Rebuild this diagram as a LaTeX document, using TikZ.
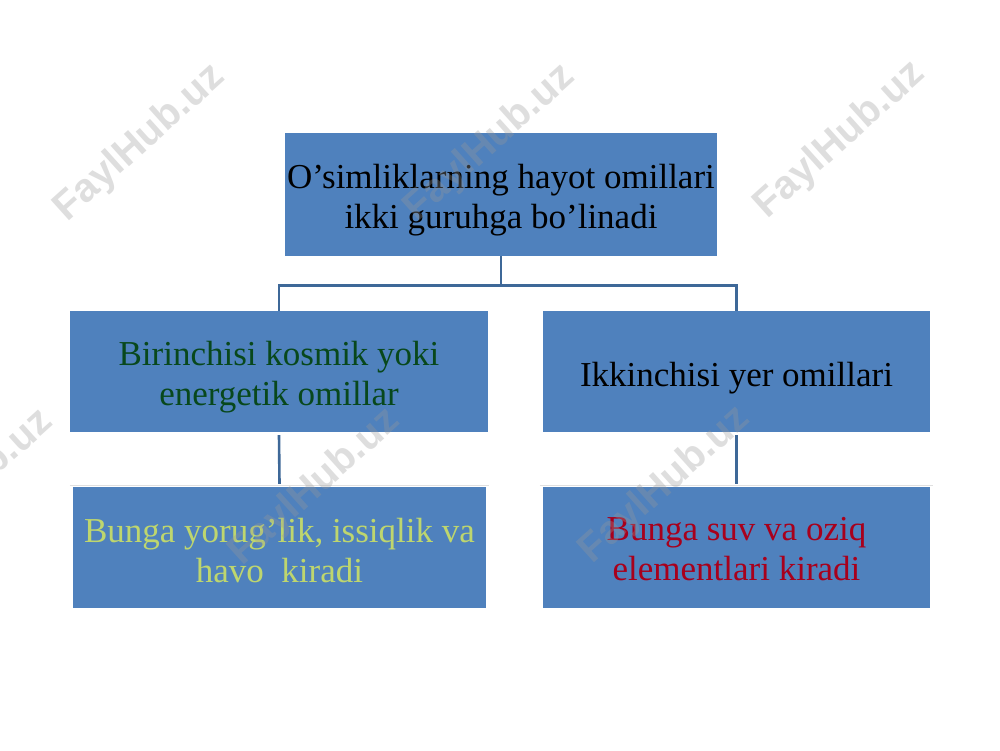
\documentclass[tikz,border=0pt]{standalone}
\usepackage{fontspec}
\usetikzlibrary{calc}
\setmainfont{Liberation Serif}
\newfontfamily\wmfont{Liberation Sans}
\definecolor{boxblue}{RGB}{79,129,189}
\definecolor{linkblue}{RGB}{62,104,152}
\definecolor{dkgreen}{RGB}{8,72,28}
\definecolor{ltgreen}{RGB}{190,214,110}
\definecolor{dkred}{RGB}{168,0,28}
\begin{document}
\begin{tikzpicture}[x=1pt,y=-1pt,
  box/.style={fill=boxblue,draw=none,minimum height=121pt,inner sep=0pt},
  txt/.style={align=center,inner sep=0pt,font=\fontsize{35}{40}\selectfont},
  link/.style={draw=linkblue,line width=2.6pt},
  wm/.style={font=\wmfont\bfseries\fontsize{40}{42}\selectfont,text=gray!80,
    text opacity=0.32,rotate=42}]
\useasboundingbox (0,0) rectangle (1000,750);
\fill[white] (0,0) rectangle (1000,750);
\node[box,minimum width=432pt,minimum height=123pt] (top) at (501,194.5) {};
\node[box,minimum width=418pt] (ml) at (279,371.5) {};
\node[box,minimum width=387pt] (mr) at (736.5,371.5) {};
\node[box,minimum width=413pt] (bl) at (279.5,547.5) {};
\node[box,minimum width=387pt] (br) at (736.5,547.5) {};
\node[txt] (topt) at ($(top.center)+(0,6)$)
  {O’simliklarning hayot omillari\\ikki guruhga bo’linadi};
\node[txt,text=dkgreen] (mlt) at ($(ml.center)+(0,6)$)
  {Birinchisi kosmik yoki\\energetik omillar};
\node[txt] (mrt) at ($(mr.center)+(0,7)$)
  {Ikkinchisi yer omillari};
\node[txt,text=ltgreen] (blt) at ($(bl.center)+(0,3)$)
  {Bunga yorug’lik, issiqlik va\\havo\ \ kiradi};
\node[txt,text=dkred] (brt) at ($(br.center)+(0,2)$)
  {Bunga suv va oziq\\elementlari kiradi};
\draw[black!12,line width=1pt] ([xshift=-3pt,yshift=1pt]bl.north west) -- ([xshift=3pt,yshift=1pt]bl.north east);
\draw[black!12,line width=1pt] ([xshift=-3pt,yshift=1pt]br.north west) -- ([xshift=3pt,yshift=1pt]br.north east);
\coordinate (split) at ($(top.south)+(0,29)$);
\draw[link] (top.south) -- (split) -| (ml.north);
\draw[link] (split) -| (mr.north);
\draw[link] ([yshift=-3pt]ml.south) -- ([yshift=3pt]bl.north);
\draw[link] ([yshift=-3pt]mr.south) -- ([yshift=3pt]br.north);
\node[wm] (w1) at (140,143) {FaylHub.uz};
\node[wm] (w2) at (490,143) {FaylHub.uz};
\node[wm] (w3) at (840,140) {FaylHub.uz};
\node[wm] (w4) at (-32,488) {FaylHub.uz};
\node[wm] (w5) at (315,487) {FaylHub.uz};
\node[wm] (w6) at (665,485) {FaylHub.uz};
\end{tikzpicture}
\end{document}
